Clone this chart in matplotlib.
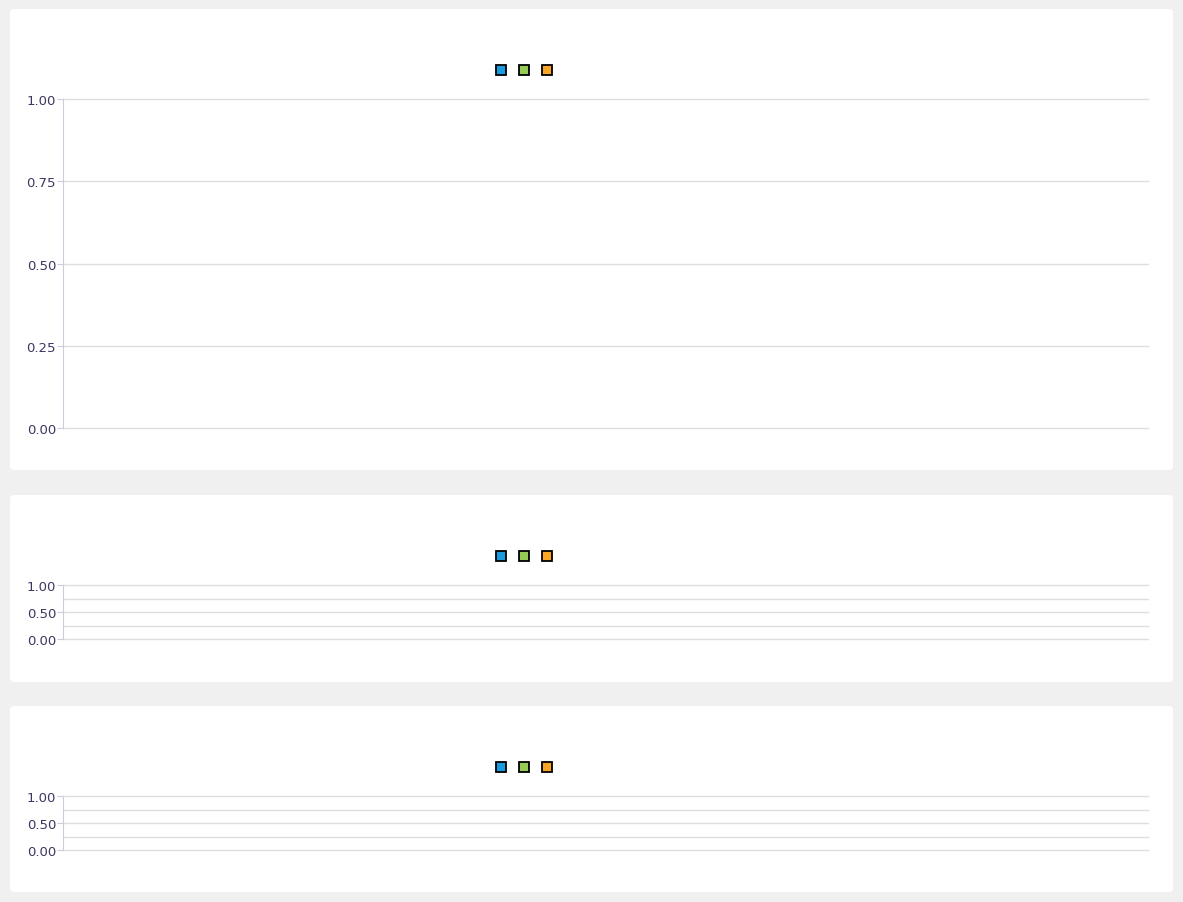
import matplotlib
matplotlib.use("Agg")
import matplotlib.pyplot as plt
from matplotlib.patches import FancyBboxPatch
from matplotlib.lines import Line2D

# ---- data (the reference charts are empty) ----
series_names = ["", "", ""]
series_colors = ["#1a9be0", "#96cc55", "#f9a627"]
x_values = []
series_a = []
series_b = []
series_c = []
yticks_major_big = [0.0, 0.25, 0.5, 0.75, 1.0]
yticks_major_small = [0.0, 0.5, 1.0]
yticks_minor_small = [0.25, 0.75]

W, H = 1183, 903
fig = plt.figure(figsize=(W / 100, H / 100), dpi=100)
fig.patch.set_facecolor("#f0f0f0")

def fx(px):
    return px / W

def fy(py):
    return 1 - py / H

panels = [
    ((10, 10, 1173, 471), (63, 100, 1148, 429), 72, True),
    ((10, 496, 1173, 683), (63, 586, 1148, 640), 558, False),
    ((10, 707, 1173, 893), (63, 797, 1148, 851), 769, False),
]

label_color = "#3d3760"
grid_color = "#dedede"
axis_color = "#ccccdd"

for (bx0, by0, bx1, by1), (ax0, ay0, ax1, ay1), ly, big in panels:
    box = FancyBboxPatch((fx(bx0), fy(by1)), fx(bx1 - bx0), (by1 - by0) / H,
                         boxstyle="round,pad=0,rounding_size=0.004",
                         transform=fig.transFigure, facecolor="white",
                         edgecolor="none", zorder=-10)
    fig.patches.append(box)
    ax = fig.add_axes([fx(ax0), fy(ay1), fx(ax1 - ax0), (ay1 - ay0) / H])
    ax.set_zorder(5)
    ax.set_facecolor("none")
    handles = []
    for vals, name, col in zip([series_a, series_b, series_c], series_names, series_colors):
        ax.plot(x_values, vals, marker="s", color=col, label=name)
        handles.append(Line2D([], [], linestyle="none", marker="s", markersize=6.8,
                              markerfacecolor=col, markeredgecolor="black",
                              markeredgewidth=1.3, label=name))
    ax.set_ylim(0, 1)
    ax.set_xlim(0, 1)
    if big:
        ax.set_yticks(yticks_major_big)
    else:
        ax.set_yticks(yticks_major_small)
        ax.set_yticks(yticks_minor_small, minor=True)
    ax.set_yticklabels([f"{v:.2f}" for v in ax.get_yticks()])
    ax.set_xticks([])
    ax.grid(axis="y", which="both", color=grid_color, linewidth=1)
    ax.set_axisbelow(True)
    for t in ax.yaxis.get_major_ticks() + ax.yaxis.get_minor_ticks():
        t.gridline.set_clip_on(False)
    for s in ["top", "right", "bottom"]:
        ax.spines[s].set_visible(False)
    ax.spines["left"].set_color(axis_color)
    ax.tick_params(axis="y", which="major", length=4, color=axis_color,
                   labelcolor=label_color, labelsize=9.5, pad=1)
    ax.tick_params(axis="y", which="minor", length=0)
    leg = fig.legend(handles=handles, loc="center", ncol=3,
                     bbox_to_anchor=(fx(524), fy(ly)), bbox_transform=fig.transFigure,
                     frameon=False, handlelength=0.6, handletextpad=0.0,
                     columnspacing=1.25, fontsize=9, borderpad=0)
    leg.set_zorder(6)

fig.savefig("out.png", dpi=100, facecolor=fig.get_facecolor())
